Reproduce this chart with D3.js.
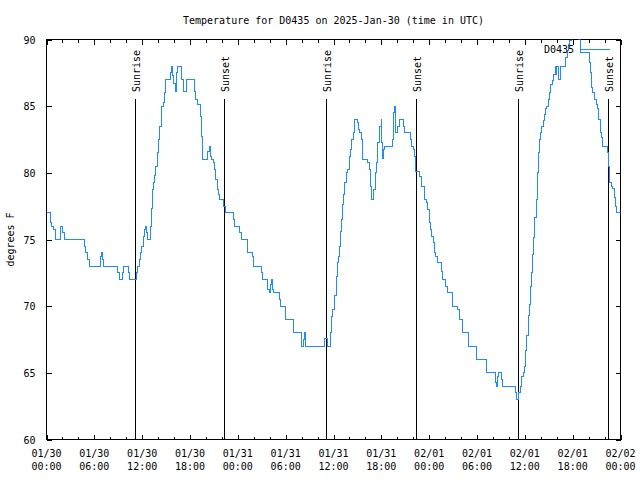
<!DOCTYPE html>
<html>
<head>
<meta charset="utf-8">
<script src="https://cdn.jsdelivr.net/npm/d3@7"></script>
<style>
  html, body { margin: 0; padding: 0; background: #fff; }
  svg { display: block; }
  text { font-family: "DejaVu Sans Mono", "Liberation Mono", monospace; font-size: 10px; fill: #000; }
</style>
</head>
<body>
<svg id="chart" width="640" height="480"></svg>
<script>
// ---- data (hours since 2025-01-30 00:00 UTC, temperature in °F) ----
const hours = [
  0.00, 0.46, 0.67, 0.92, 1.13, 1.80, 2.05, 2.22, 4.73, 4.94, 5.10, 5.40, 6.73, 6.90, 7.07, 7.19,
  8.95, 9.16, 9.49, 9.62, 10.29, 10.45, 11.29, 11.46, 11.63, 11.79, 11.96, 12.13, 12.30, 12.42, 12.59, 12.71,
  13.05, 13.15, 13.30, 13.45, 13.60, 13.72, 13.89, 14.05, 14.22, 14.39, 14.64, 14.81, 14.97, 15.56, 15.73, 15.85,
  15.98, 16.14, 16.31, 16.40, 16.98, 17.15, 17.61, 18.57, 18.74, 18.90, 19.32, 19.41, 19.57, 20.24, 20.41, 20.58,
  20.74, 20.91, 21.08, 21.25, 21.41, 21.58, 21.75, 22.25, 22.42, 23.42, 23.59, 24.26, 24.43, 25.18, 25.85, 25.93,
  26.94, 27.10, 27.77, 27.94, 28.11, 28.27, 28.36, 28.52, 29.19, 29.36, 29.95, 30.95, 31.95, 32.04, 32.21, 32.37,
  32.54, 34.84, 35.21, 35.59, 35.76, 35.93, 36.09, 36.18, 36.35, 36.51, 36.68, 36.76, 36.85, 37.01, 37.10, 37.27,
  37.43, 37.60, 37.81, 37.98, 38.14, 38.31, 38.48, 38.64, 38.98, 39.15, 39.31, 39.48, 39.65, 40.32, 40.49, 40.65,
  40.74, 41.07, 41.24, 41.41, 41.57, 41.74, 41.99, 42.07, 42.16, 42.24, 42.41, 43.41, 43.50, 43.58, 43.66, 43.75,
  43.83, 44.00, 44.25, 44.75, 44.92, 45.67, 45.84, 46.01, 46.17, 46.26, 46.34, 46.76, 47.01, 47.43, 47.68, 47.85,
  48.01, 48.18, 48.35, 48.52, 48.68, 48.85, 49.10, 49.52, 49.69, 50.10, 50.27, 50.94, 51.61, 51.78, 52.20, 52.95,
  53.99, 55.25, 56.34, 56.50, 56.59, 56.67, 57.09, 57.26, 58.85, 59.01, 59.26, 59.43, 59.60, 59.77, 59.93, 60.02,
  60.10, 60.27, 60.44, 60.60, 60.77, 60.85, 60.94, 61.10, 61.27, 61.44, 61.61, 61.69, 61.86, 61.94, 62.11, 62.28,
  62.44, 62.61, 62.78, 62.94, 63.11, 63.28, 63.45, 63.61, 63.86, 63.95, 64.03, 64.20, 64.45, 65.12, 65.29, 65.45,
  65.62, 65.87, 66.04, 66.79, 67.00, 68.05, 68.21, 68.30, 68.55, 68.80, 68.97, 69.13, 69.30, 69.47, 69.64, 69.80,
  70.39, 70.47, 70.64, 70.89, 71.05, 71.22, 71.39, 71.56, 72.00
];
const temps = [
  77, 76.25, 76, 75.75, 75, 76, 75.5, 75, 74.5, 74, 73.5, 73, 73.75, 74, 73.5, 73,
  72.5, 72, 72.5, 73, 72.5, 72, 72.5, 73, 73.5, 74, 74.5, 75.25, 75.75, 76, 75.5, 75,
  76, 77.3, 78.75, 79.3, 79.8, 80.5, 81.5, 82.5, 83.5, 85, 85.3, 86, 87, 87.5, 88, 87.3,
  86.7, 86.1, 87.5, 88, 87, 86.1, 87, 86.1, 85.5, 85.1, 84.25, 82.75, 81, 81.6, 82, 81.25,
  81, 80.75, 80.25, 79.5, 78.75, 78.4, 78, 77.5, 77, 76.5, 76, 75.5, 75, 74, 73.75, 73,
  72.5, 72, 71.25, 71, 71.6, 72, 71.25, 71, 70.5, 70, 69, 68, 67.4, 67, 67.5, 68,
  67, 67.6, 67, 68, 69.25, 69.75, 70, 70.8, 72.25, 73.25, 73.75, 74.5, 75.6, 76.5, 77.6, 78.4,
  79.25, 80, 80.25, 81.25, 81.75, 82.5, 83, 84, 83.75, 83.25, 83, 82.5, 81, 80.75, 80.25, 79,
  78, 78.75, 80, 80.75, 82.25, 83.5, 84, 82.25, 81.1, 81.75, 82, 82.5, 83.5, 84.5, 85, 84,
  83, 83.5, 84, 83.5, 83, 82.5, 82, 81.75, 81.25, 80.9, 80.1, 79.75, 79, 78, 77.75, 77.25,
  76.25, 75.75, 75.25, 74.75, 74, 73.75, 73.25, 72.6, 72, 71.5, 71, 70, 69.75, 69, 68, 67,
  66, 65, 64.25, 64, 64.75, 65, 64.5, 64, 63.5, 63, 63.5, 64, 64.75, 65, 65.4, 65.5,
  66.65, 67.8, 69.3, 70.15, 71.5, 72.5, 73.9, 75.15, 76.65, 78, 80, 81.5, 82.5, 83, 83.5, 83.9,
  84.4, 84.8, 85, 85.5, 86, 86.65, 86.9, 87.4, 88, 87.4, 88, 87, 88, 88.65, 89.15, 89.65,
  89.9, 90.5, 91, 90, 89, 88.25, 87.5, 86.4, 86, 85.5, 85.15, 84.8, 84, 83, 82.65, 82,
  81.5, 80.5, 79.3, 79, 78.8, 78.15, 77.5, 77, 77
];
const sunLabels = ["Sunrise", "Sunset", "Sunrise", "Sunset", "Sunrise", "Sunset"];
const sunHours  = [11.1, 22.25, 35.08, 46.34, 59.13, 70.43];
const yTickValues = [60, 65, 70, 75, 80, 85, 90];
const seriesName = "D0435";
const titleText = "Temperature for D0435 on 2025-Jan-30 (time in UTC)";
const yLabel = "degrees F";

// ---- layout ----
const L = 46.5, R = 620.5, T = 39.5, B = 439.5;
const t0 = Date.UTC(2025, 0, 30, 0, 0);
const toDate = h => new Date(t0 + h * 3600 * 1000);

const svg = d3.select("#chart");
const x = d3.scaleUtc().domain([toDate(0), toDate(72)]).range([L, R]);
const y = d3.scaleLinear().domain([60, 90]).range([B, T]);

// clip
svg.append("defs").append("clipPath").attr("id", "plotclip")
  .append("rect").attr("x", L).attr("y", T).attr("width", R - L).attr("height", B - T);

// minor ticks (every 2h) top & bottom
const minorTicks = x.ticks(d3.utcHour.every(2)).filter(d => d.getUTCHours() % 6 !== 0);
const majorTicks = x.ticks(d3.utcHour.every(6));

const gAxisB = svg.append("g").attr("transform", `translate(0,${B})`)
  .call(d3.axisBottom(x).tickValues(majorTicks).tickSizeInner(-5).tickSizeOuter(0).tickPadding(0).tickFormat(""));
gAxisB.select(".domain").remove();
const gAxisT = svg.append("g").attr("transform", `translate(0,${T})`)
  .call(d3.axisTop(x).tickValues(majorTicks).tickSizeInner(-5).tickSizeOuter(0).tickFormat(""));
gAxisT.select(".domain").remove();
const gMinB = svg.append("g").attr("transform", `translate(0,${B})`)
  .call(d3.axisBottom(x).tickValues(minorTicks).tickSizeInner(-3).tickSizeOuter(0).tickFormat(""));
gMinB.select(".domain").remove();
const gMinT = svg.append("g").attr("transform", `translate(0,${T})`)
  .call(d3.axisTop(x).tickValues(minorTicks).tickSizeInner(-3).tickSizeOuter(0).tickFormat(""));
gMinT.select(".domain").remove();

// x tick labels (two lines)
const fmtDay = d3.utcFormat("%m/%d"), fmtTime = d3.utcFormat("%H:%M");
const xl = svg.append("g");
majorTicks.forEach(d => {
  const t = xl.append("text").attr("text-anchor", "middle");
  t.append("tspan").attr("x", x(d)).attr("y", 457).text(fmtDay(d));
  t.append("tspan").attr("x", x(d)).attr("y", 470).text(fmtTime(d));
});

// y axes
const gAxisL = svg.append("g").attr("transform", `translate(${L},0)`)
  .call(d3.axisLeft(y).tickValues(yTickValues).tickSizeInner(-5).tickSizeOuter(0).tickPadding(11).tickFormat(d3.format("d")));
gAxisL.select(".domain").remove();
gAxisL.selectAll("text").attr("font-family", null).attr("font-size", null).attr("dy", "0.35em");
const gAxisR = svg.append("g").attr("transform", `translate(${R},0)`)
  .call(d3.axisRight(y).tickValues(yTickValues).tickSizeInner(-5).tickSizeOuter(0).tickFormat(""));
gAxisR.select(".domain").remove();

svg.selectAll(".tick line").attr("stroke", "#000").attr("shape-rendering", "crispEdges");

// border
svg.append("rect").attr("x", L).attr("y", T).attr("width", R - L).attr("height", B - T)
  .attr("fill", "none").attr("stroke", "#000").attr("stroke-width", 1).attr("shape-rendering", "crispEdges");

// sunrise / sunset markers
const sun = svg.append("g");
sunHours.forEach((h, i) => {
  const xx = Math.round(x(toDate(h))) + 0.5;
  sun.append("line").attr("x1", xx).attr("x2", xx).attr("y1", 99).attr("y2", B)
    .attr("stroke", "#000").attr("stroke-width", 1).attr("shape-rendering", "crispEdges");
  sun.append("text").attr("transform", `translate(${xx + 4},92) rotate(-90)`)
    .attr("text-anchor", "start").text(sunLabels[i]);
});

// data line
const pts = hours.map((h, i) => [toDate(h), temps[i]]);
const line = d3.line().x(d => x(d[0])).y(d => y(d[1])).curve(d3.curveStepAfter);
svg.append("path").datum(pts).attr("clip-path", "url(#plotclip)")
  .attr("d", line).attr("fill", "none").attr("stroke", "#1e8cff").attr("stroke-width", 1)
  .attr("shape-rendering", "crispEdges");

// legend
svg.append("text").attr("x", 574).attr("y", 53).attr("text-anchor", "end").text(seriesName);
svg.append("line").attr("x1", 581).attr("x2", 610).attr("y1", 49.5).attr("y2", 49.5)
  .attr("stroke", "#1e8cff").attr("stroke-width", 1).attr("shape-rendering", "crispEdges");

// title and y label
svg.append("text").attr("x", (L + R) / 2).attr("y", 24).attr("text-anchor", "middle").text(titleText);
svg.append("text").attr("transform", `translate(14,${(T + B) / 2}) rotate(-90)`)
  .attr("text-anchor", "middle").text(yLabel);
</script>
</body>
</html>
